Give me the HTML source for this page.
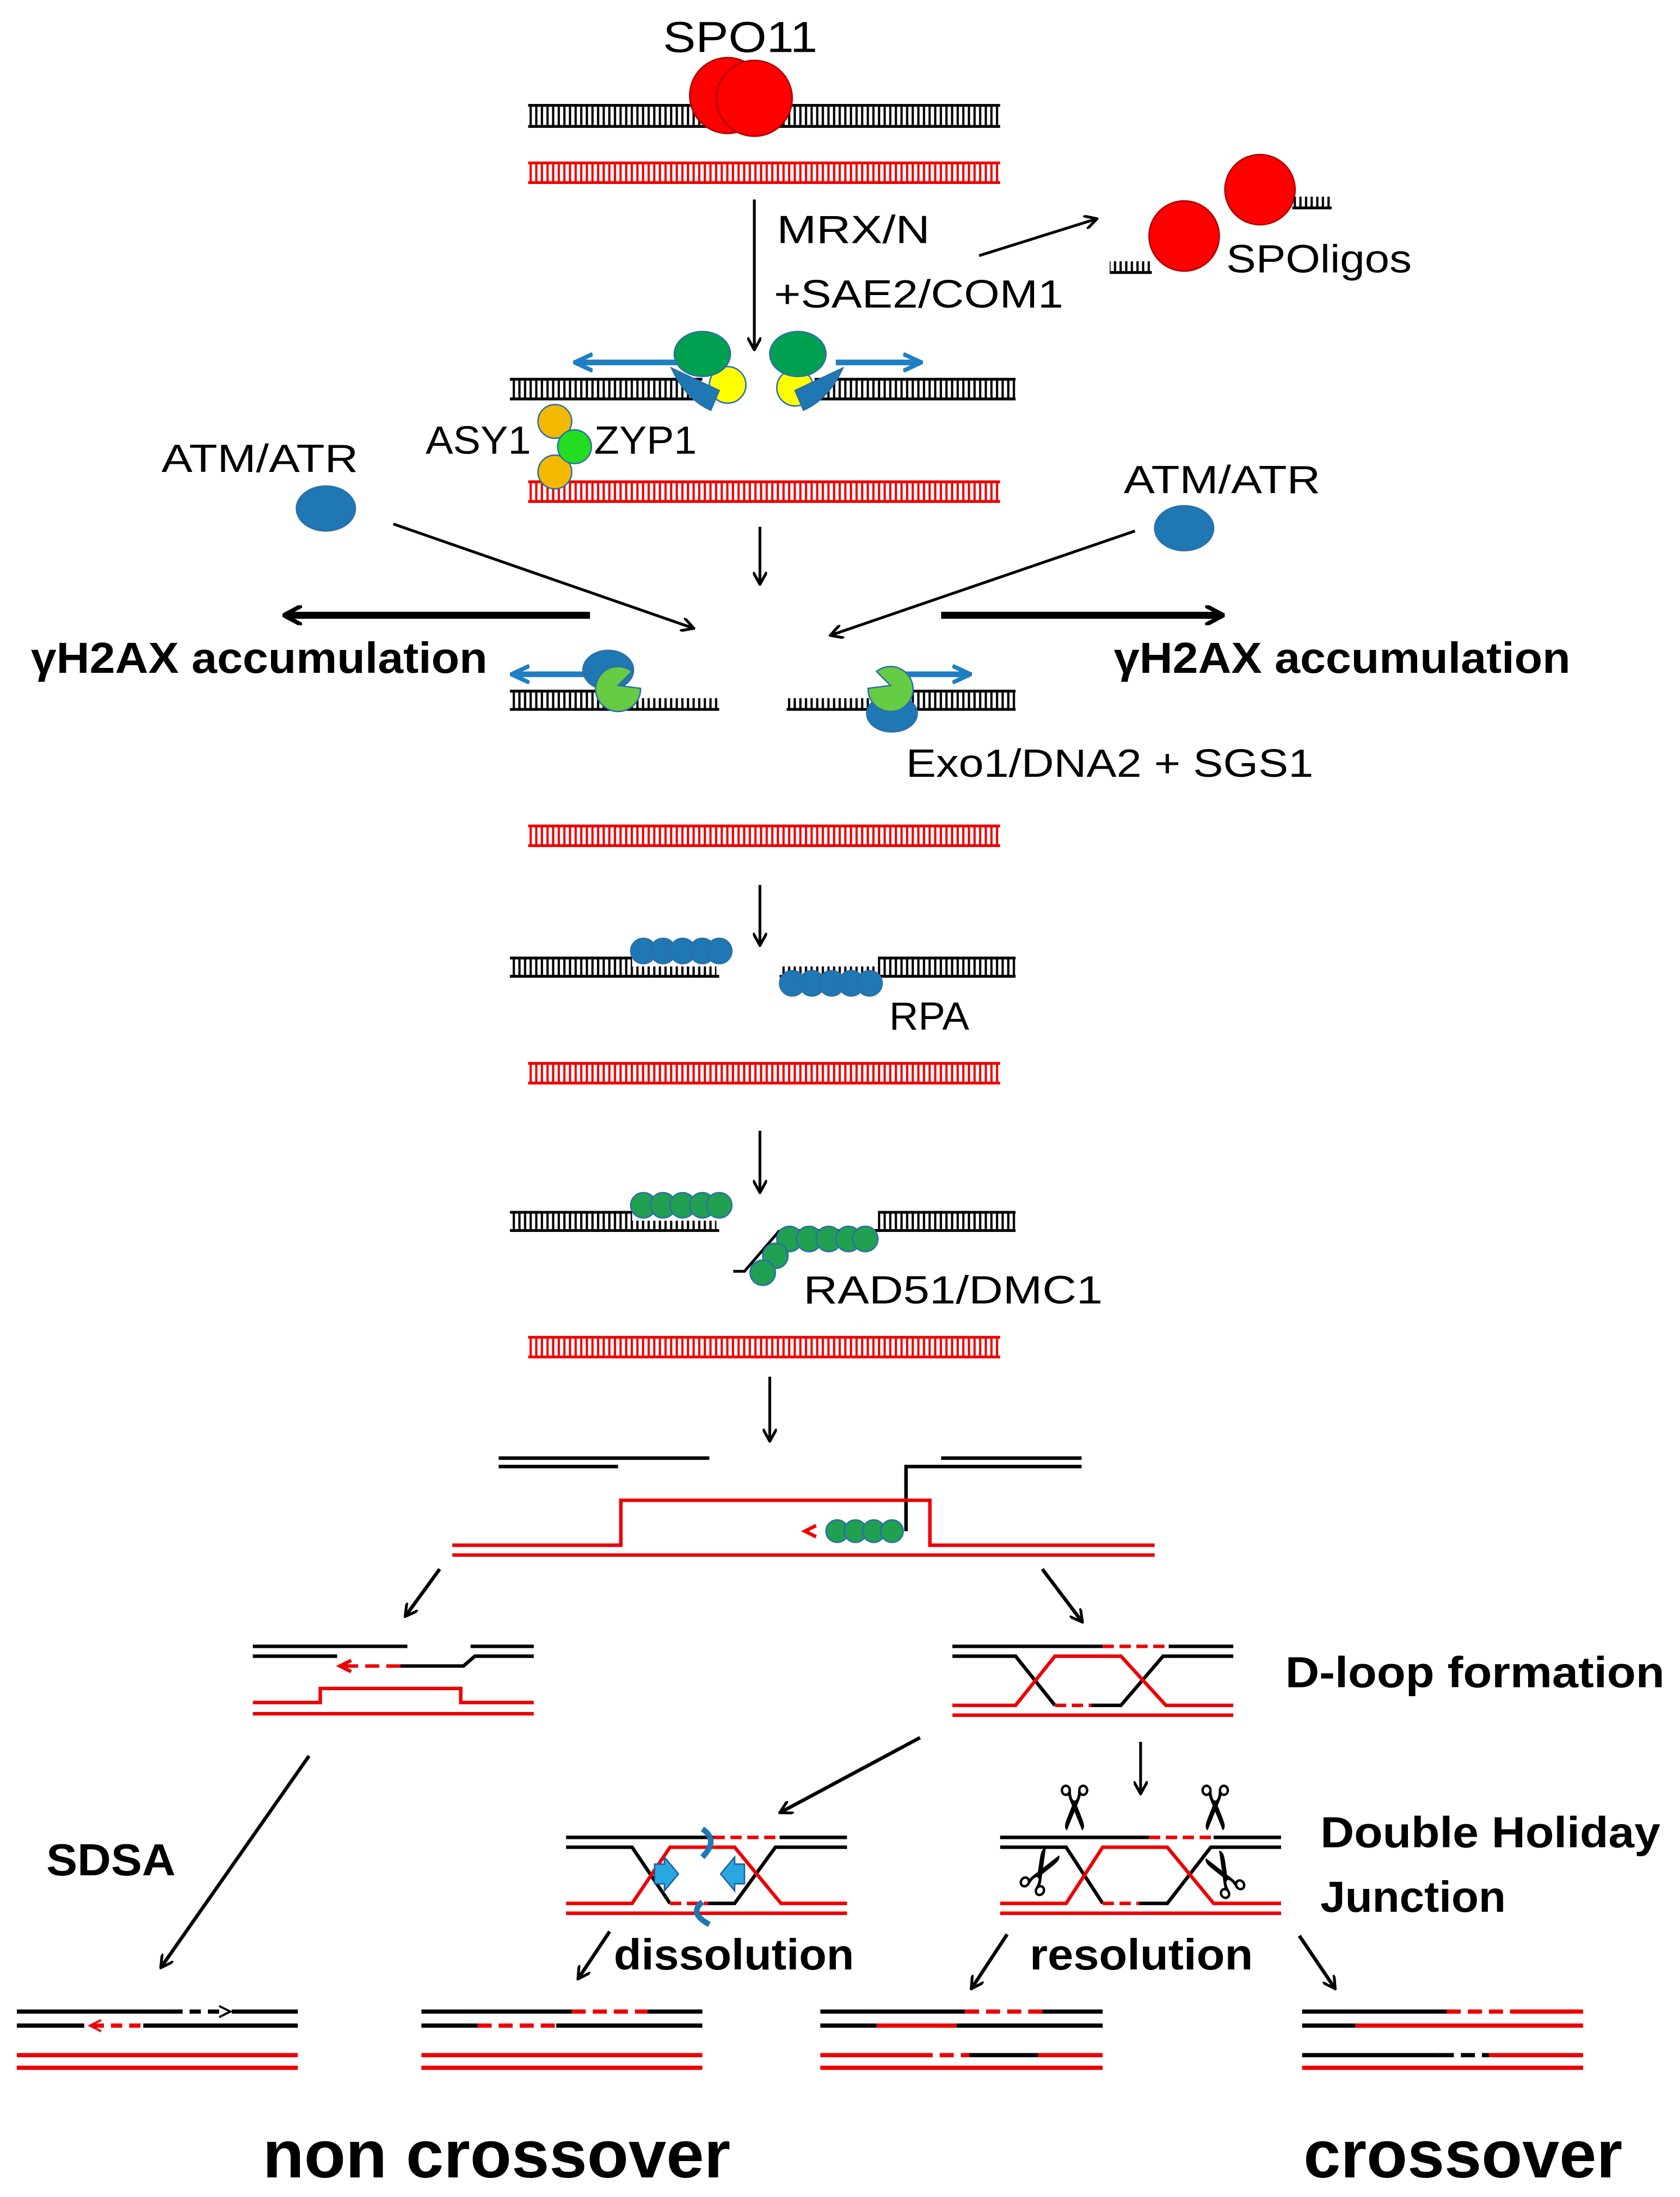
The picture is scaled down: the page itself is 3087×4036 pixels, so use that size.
<!DOCTYPE html>
<html><head><meta charset="utf-8"><style>
html,body{margin:0;padding:0;background:#fff}
svg{display:block}
text{font-family:"Liberation Sans","DejaVu Sans",sans-serif}
.b{font-weight:bold}
</style></head><body>
<svg width="3087" height="4036" viewBox="0 0 1196 1564" preserveAspectRatio="none" xmlns="http://www.w3.org/2000/svg">
<defs>
<pattern id="pk" width="4" height="20" patternUnits="userSpaceOnUse"><rect x="1" y="0" width="1.6" height="20" fill="#000"/></pattern>
<pattern id="pr" width="4" height="20" patternUnits="userSpaceOnUse"><rect x="1" y="0" width="1.6" height="20" fill="#e00"/></pattern>
<marker id="ah" markerWidth="10" markerHeight="10" refX="8" refY="5" orient="auto" markerUnits="userSpaceOnUse" viewBox="0 0 10 10"><path d="M0,0 L9,5 L0,10" fill="none" stroke="#000" stroke-width="2"/></marker>
<marker id="ahb" markerWidth="14" markerHeight="14" refX="12" refY="7" orient="auto" markerUnits="userSpaceOnUse" viewBox="0 0 14 14"><path d="M0,0 L13,7 L0,14" fill="none" stroke="#000" stroke-width="3"/></marker>
<marker id="ahc" markerWidth="14" markerHeight="14" refX="12" refY="7" orient="auto" markerUnits="userSpaceOnUse" viewBox="0 0 14 14"><path d="M0,1 L13,7 L0,13" fill="none" stroke="#1f7fc4" stroke-width="3"/></marker>
</defs>
<g id="all">
<!-- Row1 -->
<text x="472" y="37" font-size="31" textLength="110" lengthAdjust="spacingAndGlyphs">SPO11</text>
<rect x="376" y="76" width="336" height="14" fill="url(#pk)"/><line x1="376" y1="75" x2="712" y2="75" stroke="#000" stroke-width="2"/><line x1="376" y1="90" x2="712" y2="90" stroke="#000" stroke-width="2"/>
<circle cx="518" cy="68" r="27" fill="#f00" stroke="#a00"/><circle cx="537" cy="70" r="27" fill="#f00" stroke="#a00"/>
<rect x="376" y="117" width="336" height="13" fill="url(#pr)"/><line x1="376" y1="116" x2="712" y2="116" stroke="#e00" stroke-width="2"/><line x1="376" y1="130" x2="712" y2="130" stroke="#e00" stroke-width="2"/>
<line x1="537" y1="142" x2="537" y2="248" stroke="#000" stroke-width="2" marker-end="url(#ah)"/>
<text x="553" y="173" font-size="28" textLength="109" lengthAdjust="spacingAndGlyphs">MRX/N</text>
<text x="551" y="219" font-size="28" textLength="206" lengthAdjust="spacingAndGlyphs">+SAE2/COM1</text>
<line x1="697" y1="182" x2="780" y2="156" stroke="#000" stroke-width="2" marker-end="url(#ah)"/>
<circle cx="897" cy="135" r="25" fill="#f00" stroke="#a00"/><circle cx="843" cy="168" r="25" fill="#f00" stroke="#a00"/>
<rect x="920" y="140" width="28" height="8" fill="url(#pk)"/><line x1="920" y1="148" x2="948" y2="148" stroke="#000" stroke-width="2"/>
<rect x="790" y="186" width="30" height="8" fill="url(#pk)"/><line x1="790" y1="194" x2="820" y2="194" stroke="#000" stroke-width="2"/>
<text x="873" y="194" font-size="28" textLength="132" lengthAdjust="spacingAndGlyphs">SPOligos</text>
<!-- Row2 -->
<rect x="363" y="271" width="137" height="13" fill="url(#pk)"/><line x1="363" y1="270" x2="500" y2="270" stroke="#000" stroke-width="2"/><line x1="363" y1="284" x2="500" y2="284" stroke="#000" stroke-width="2"/>
<rect x="580" y="271" width="143" height="13" fill="url(#pk)"/><line x1="580" y1="270" x2="723" y2="270" stroke="#000" stroke-width="2"/><line x1="580" y1="284" x2="723" y2="284" stroke="#000" stroke-width="2"/>
<rect x="376" y="344" width="336" height="13" fill="url(#pr)"/><line x1="376" y1="343" x2="712" y2="343" stroke="#e00" stroke-width="2"/><line x1="376" y1="357" x2="712" y2="357" stroke="#e00" stroke-width="2"/>
<line x1="495" y1="258" x2="410" y2="258" stroke="#1f7fc4" stroke-width="4" marker-end="url(#ahc)"/>
<line x1="595" y1="258" x2="655" y2="258" stroke="#1f7fc4" stroke-width="4" marker-end="url(#ahc)"/>
<circle cx="518" cy="274" r="13" fill="#ff0" stroke="#2a6fa8"/><circle cx="566" cy="276" r="13" fill="#ff0" stroke="#2a6fa8"/>
<path d="M478,262 q10,22 28,30 l6,-14 z" fill="#1f77b4" stroke="#2a6fa8"/><path d="M600,262 q-10,22 -28,30 l-6,-14 z" fill="#1f77b4" stroke="#2a6fa8"/>
<ellipse cx="500" cy="252" rx="20" ry="16" fill="#00a050" stroke="#2a6fa8"/><ellipse cx="568" cy="252" rx="20" ry="16" fill="#00a050" stroke="#2a6fa8"/>
<text x="303" y="323" font-size="28" textLength="75" lengthAdjust="spacingAndGlyphs">ASY1</text><text x="423" y="323" font-size="28" textLength="73" lengthAdjust="spacingAndGlyphs">ZYP1</text>
<circle cx="395" cy="300" r="12" fill="#f5b800" stroke="#2a6fa8"/><circle cx="395" cy="336" r="12" fill="#f5b800" stroke="#2a6fa8"/><circle cx="409" cy="318" r="12" fill="#2d2" stroke="#2a6fa8"/>
<text x="115" y="336" font-size="28" textLength="140" lengthAdjust="spacingAndGlyphs">ATM/ATR</text><ellipse cx="232" cy="362" rx="21" ry="16" fill="#1f77b4" stroke="#2a6fa8"/>
<text x="800" y="351" font-size="28" textLength="140" lengthAdjust="spacingAndGlyphs">ATM/ATR</text><ellipse cx="843" cy="376" rx="21" ry="16" fill="#1f77b4" stroke="#2a6fa8"/>
<line x1="541" y1="375" x2="541" y2="415" stroke="#000" stroke-width="2" marker-end="url(#ah)"/>
<line x1="280" y1="373" x2="493" y2="447" stroke="#000" stroke-width="2" marker-end="url(#ah)"/>
<line x1="808" y1="378" x2="592" y2="452" stroke="#000" stroke-width="2" marker-end="url(#ah)"/>
<line x1="420" y1="438" x2="203" y2="438" stroke="#000" stroke-width="5" marker-end="url(#ahb)"/>
<line x1="670" y1="438" x2="870" y2="438" stroke="#000" stroke-width="5" marker-end="url(#ahb)"/>
<text x="22" y="479" font-size="31" class="b" textLength="325" lengthAdjust="spacingAndGlyphs">γH2AX accumulation</text>
<text x="793" y="479" font-size="31" class="b" textLength="325" lengthAdjust="spacingAndGlyphs">γH2AX accumulation</text>
<!-- Row3 -->
<rect x="363" y="493" width="92" height="12" fill="url(#pk)"/><line x1="363" y1="492" x2="455" y2="492" stroke="#000" stroke-width="2"/><line x1="363" y1="505" x2="512" y2="505" stroke="#000" stroke-width="2"/>
<rect x="455" y="497" width="57" height="8" fill="url(#pk)"/>
<rect x="620" y="493" width="103" height="12" fill="url(#pk)"/><line x1="620" y1="492" x2="723" y2="492" stroke="#000" stroke-width="2"/><line x1="560" y1="505" x2="723" y2="505" stroke="#000" stroke-width="2"/>
<rect x="560" y="497" width="60" height="8" fill="url(#pk)"/>
<line x1="420" y1="480" x2="365" y2="480" stroke="#1f7fc4" stroke-width="4" marker-end="url(#ahc)"/>
<line x1="640" y1="480" x2="690" y2="480" stroke="#1f7fc4" stroke-width="4" marker-end="url(#ahc)"/>
<ellipse cx="433" cy="477" rx="18" ry="14" fill="#1f77b4" stroke="#2a6fa8"/><path d="M456,490 a16,16 0 1 1 -6,-12 l-10,10 z" fill="#66cc44" stroke="#2a6fa8"/>
<ellipse cx="635" cy="508" rx="18" ry="13" fill="#1f77b4" stroke="#2a6fa8"/><path d="M618,490 a16,16 0 1 0 6,-12 l10,10 z" fill="#66cc44" stroke="#2a6fa8"/>
<text x="645" y="553" font-size="28" textLength="290" lengthAdjust="spacingAndGlyphs">Exo1/DNA2 + SGS1</text>
<rect x="376" y="589" width="336" height="13" fill="url(#pr)"/><line x1="376" y1="588" x2="712" y2="588" stroke="#e00" stroke-width="2"/><line x1="376" y1="602" x2="712" y2="602" stroke="#e00" stroke-width="2"/>
<!-- Row4 -->
<line x1="541" y1="630" x2="541" y2="672" stroke="#000" stroke-width="2" marker-end="url(#ah)"/>
<rect x="363" y="683" width="87" height="12" fill="url(#pk)"/><line x1="363" y1="682" x2="450" y2="682" stroke="#000" stroke-width="2"/><line x1="363" y1="695" x2="512" y2="695" stroke="#000" stroke-width="2"/><rect x="450" y="688" width="60" height="7" fill="url(#pk)"/>
<rect x="625" y="683" width="98" height="12" fill="url(#pk)"/><line x1="625" y1="682" x2="723" y2="682" stroke="#000" stroke-width="2"/><line x1="555" y1="695" x2="723" y2="695" stroke="#000" stroke-width="2"/><rect x="555" y="688" width="70" height="7" fill="url(#pk)"/>
<g fill="#1f77b4" stroke="#2a6fa8"><circle cx="458" cy="677" r="9"/><circle cx="472" cy="677" r="9"/><circle cx="486" cy="677" r="9"/><circle cx="500" cy="677" r="9"/><circle cx="512" cy="677" r="9"/>
<circle cx="564" cy="700" r="9"/><circle cx="578" cy="700" r="9"/><circle cx="592" cy="700" r="9"/><circle cx="606" cy="700" r="9"/><circle cx="619" cy="700" r="9"/></g>
<text x="633" y="733" font-size="28" textLength="57" lengthAdjust="spacingAndGlyphs">RPA</text>
<rect x="376" y="758" width="336" height="13" fill="url(#pr)"/><line x1="376" y1="757" x2="712" y2="757" stroke="#e00" stroke-width="2"/><line x1="376" y1="771" x2="712" y2="771" stroke="#e00" stroke-width="2"/>
<!-- Row5 -->
<line x1="541" y1="805" x2="541" y2="848" stroke="#000" stroke-width="2" marker-end="url(#ah)"/>
<rect x="363" y="864" width="87" height="12" fill="url(#pk)"/><line x1="363" y1="863" x2="450" y2="863" stroke="#000" stroke-width="2"/><line x1="363" y1="876" x2="512" y2="876" stroke="#000" stroke-width="2"/><rect x="450" y="869" width="60" height="7" fill="url(#pk)"/>
<rect x="625" y="864" width="98" height="12" fill="url(#pk)"/><line x1="625" y1="863" x2="723" y2="863" stroke="#000" stroke-width="2"/><line x1="555" y1="876" x2="723" y2="876" stroke="#000" stroke-width="2"/>
<path d="M555,876 L530,905 L522,905" fill="none" stroke="#000" stroke-width="2"/>
<g fill="#20a050" stroke="#2a6fa8"><circle cx="458" cy="858" r="9"/><circle cx="472" cy="858" r="9"/><circle cx="486" cy="858" r="9"/><circle cx="500" cy="858" r="9"/><circle cx="512" cy="858" r="9"/>
<circle cx="562" cy="882" r="9"/><circle cx="576" cy="882" r="9"/><circle cx="590" cy="882" r="9"/><circle cx="604" cy="882" r="9"/><circle cx="616" cy="882" r="9"/><circle cx="552" cy="894" r="9"/><circle cx="543" cy="906" r="9"/></g>
<text x="572" y="928" font-size="28" textLength="213" lengthAdjust="spacingAndGlyphs">RAD51/DMC1</text>
<rect x="376" y="953" width="336" height="13" fill="url(#pr)"/><line x1="376" y1="952" x2="712" y2="952" stroke="#e00" stroke-width="2"/><line x1="376" y1="966" x2="712" y2="966" stroke="#e00" stroke-width="2"/>
<!-- Row6 -->
<line x1="548" y1="980" x2="548" y2="1025" stroke="#000" stroke-width="2" marker-end="url(#ah)"/>
<g stroke="#000" stroke-width="2.5" fill="none"><line x1="355" y1="1038" x2="505" y2="1038"/><line x1="355" y1="1044" x2="440" y2="1044"/><line x1="670" y1="1038" x2="770" y2="1038"/><path d="M770,1044 L645,1044 L645,1090"/></g>
<g stroke="#e00" stroke-width="2.5" fill="none"><path d="M322,1100 L442,1100 L442,1068 L662,1068 L662,1100 L822,1100"/><line x1="322" y1="1107" x2="822" y2="1107"/><path d="M581,1086 L573,1090 L581,1094"/></g>
<g fill="#20a050" stroke="#2a6fa8"><circle cx="596" cy="1090" r="8"/><circle cx="609" cy="1090" r="8"/><circle cx="622" cy="1090" r="8"/><circle cx="635" cy="1090" r="8"/></g>
<line x1="313" y1="1117" x2="289" y2="1150" stroke="#000" stroke-width="2.5" marker-end="url(#ah)"/>
<line x1="742" y1="1117" x2="770" y2="1154" stroke="#000" stroke-width="2.5" marker-end="url(#ah)"/>
<!-- SDSA intermediate -->
<g stroke="#000" stroke-width="2.5" fill="none"><line x1="180" y1="1172" x2="290" y2="1172"/><line x1="180" y1="1179" x2="240" y2="1179"/><line x1="335" y1="1172" x2="380" y2="1172"/><path d="M380,1179 L338,1179 L330,1186 L285,1186"/></g>
<g stroke="#e00" stroke-width="2.5" fill="none"><path d="M180,1212 L228,1212 L228,1202 L328,1202 L328,1212 L380,1212"/><line x1="180" y1="1220" x2="380" y2="1220"/><line x1="285" y1="1186" x2="242" y2="1186" stroke-dasharray="10,5"/><path d="M250,1182 L242,1186 L250,1190"/></g>
<!-- D-loop intermediate -->
<g stroke="#000" stroke-width="2.5" fill="none"><line x1="678" y1="1172" x2="785" y2="1172"/><line x1="832" y1="1172" x2="878" y2="1172"/><path d="M678,1179 L723,1179 L751,1214"/><path d="M777,1214 L798,1214 L828,1179 L878,1179"/></g>
<g stroke="#e00" stroke-width="2.5" fill="none"><line x1="785" y1="1172" x2="832" y2="1172" stroke-dasharray="8,4"/><line x1="751" y1="1214" x2="777" y2="1214" stroke-dasharray="8,4"/><path d="M678,1214 L723,1214 L751,1179 L798,1179 L830,1214 L878,1214"/><line x1="678" y1="1221" x2="878" y2="1221"/></g>
<text x="915" y="1201" font-size="31" class="b" textLength="270" lengthAdjust="spacingAndGlyphs">D-loop formation</text>
<line x1="655" y1="1237" x2="556" y2="1290" stroke="#000" stroke-width="2.5" marker-end="url(#ah)"/>
<line x1="812" y1="1240" x2="812" y2="1276" stroke="#000" stroke-width="2" marker-end="url(#ah)"/>
<line x1="220" y1="1250" x2="115" y2="1400" stroke="#000" stroke-width="2.5" marker-end="url(#ah)"/>
<text x="33" y="1335" font-size="32" class="b" textLength="92" lengthAdjust="spacingAndGlyphs">SDSA</text>
<!-- dissolution DHJ -->
<g stroke="#000" stroke-width="2.5" fill="none"><line x1="403" y1="1308" x2="508" y2="1308"/><line x1="555" y1="1308" x2="603" y2="1308"/><path d="M403,1315 L450,1315 L477,1355"/><path d="M504,1355 L523,1355 L552,1315 L603,1315"/></g>
<g stroke="#e00" stroke-width="2.5" fill="none"><line x1="508" y1="1308" x2="555" y2="1308" stroke-dasharray="8,4"/><line x1="477" y1="1355" x2="504" y2="1355" stroke-dasharray="8,4"/><path d="M403,1355 L450,1355 L477,1315 L523,1315 L556,1355 L603,1355"/><line x1="403" y1="1362" x2="603" y2="1362"/></g>
<path d="M466,1327 l7,0 l0,-5 l10,12 l-10,12 l0,-5 l-7,0 z" fill="#29a8e0" stroke="#1f5f9c"/>
<path d="M530,1327 l-7,0 l0,-5 l-10,12 l10,12 l0,-5 l7,0 z" fill="#29a8e0" stroke="#1f5f9c"/>
<path d="M500,1302 q12,8 0,20" fill="none" stroke="#1f77b4" stroke-width="4"/><path d="M500,1354 q-10,8 5,16" fill="none" stroke="#1f77b4" stroke-width="4"/>
<!-- resolution DHJ -->
<g stroke="#000" stroke-width="2.5" fill="none"><line x1="712" y1="1308" x2="818" y2="1308"/><line x1="864" y1="1308" x2="912" y2="1308"/><path d="M712,1315 L759,1315 L785,1355"/><path d="M811,1355 L831,1355 L862,1315 L912,1315"/></g>
<g stroke="#e00" stroke-width="2.5" fill="none"><line x1="818" y1="1308" x2="864" y2="1308" stroke-dasharray="8,4"/><line x1="785" y1="1355" x2="811" y2="1355" stroke-dasharray="8,4"/><path d="M712,1355 L759,1355 L785,1315 L831,1315 L864,1355 L912,1355"/><line x1="712" y1="1362" x2="912" y2="1362"/></g>
<g font-size="44" text-anchor="middle">
<text transform="translate(763,1287) rotate(90)" y="14">✂</text><text transform="translate(863,1287) rotate(90)" y="14">✂</text>
<text transform="translate(743,1333) rotate(-60)" y="14">✂</text><text transform="translate(873,1333) rotate(-120)" y="14">✂</text></g>
<text x="940" y="1315" font-size="31" class="b" textLength="242" lengthAdjust="spacingAndGlyphs">Double Holiday</text>
<text x="940" y="1361" font-size="31" class="b" textLength="132" lengthAdjust="spacingAndGlyphs">Junction</text>
<line x1="434" y1="1375" x2="412" y2="1408" stroke="#000" stroke-width="2.5" marker-end="url(#ah)"/>
<text x="437" y="1402" font-size="31" class="b" textLength="171" lengthAdjust="spacingAndGlyphs">dissolution</text>
<line x1="717" y1="1377" x2="692" y2="1415" stroke="#000" stroke-width="2.5" marker-end="url(#ah)"/>
<text x="733" y="1402" font-size="31" class="b" textLength="159" lengthAdjust="spacingAndGlyphs">resolution</text>
<line x1="925" y1="1378" x2="950" y2="1415" stroke="#000" stroke-width="2.5" marker-end="url(#ah)"/>
<!-- bottom products -->
<g stroke-width="3" fill="none">
<line x1="12" y1="1432" x2="122" y2="1432" stroke="#000"/><line x1="122" y1="1432" x2="160" y2="1432" stroke="#000" stroke-dasharray="8,5"/><path d="M156,1428 L164,1432 L156,1436" stroke="#000" stroke-width="1.5"/><line x1="165" y1="1432" x2="212" y2="1432" stroke="#000"/>
<line x1="12" y1="1442" x2="60" y2="1442" stroke="#000"/><line x1="66" y1="1442" x2="102" y2="1442" stroke="#e00" stroke-dasharray="8,5"/><path d="M72,1438 L64,1442 L72,1446" stroke="#e00" stroke-width="1.5"/><line x1="102" y1="1442" x2="212" y2="1442" stroke="#000"/>
<line x1="12" y1="1463" x2="212" y2="1463" stroke="#e00"/><line x1="12" y1="1472" x2="212" y2="1472" stroke="#e00"/>

<line x1="300" y1="1432" x2="407" y2="1432" stroke="#000"/><line x1="407" y1="1432" x2="461" y2="1432" stroke="#e00" stroke-dasharray="10,5"/><line x1="461" y1="1432" x2="500" y2="1432" stroke="#000"/>
<line x1="300" y1="1442" x2="340" y2="1442" stroke="#000"/><line x1="340" y1="1442" x2="396" y2="1442" stroke="#e00" stroke-dasharray="10,5"/><line x1="396" y1="1442" x2="500" y2="1442" stroke="#000"/>
<line x1="300" y1="1463" x2="500" y2="1463" stroke="#e00"/><line x1="300" y1="1472" x2="500" y2="1472" stroke="#e00"/>

<line x1="584" y1="1432" x2="687" y2="1432" stroke="#000"/><line x1="687" y1="1432" x2="742" y2="1432" stroke="#e00" stroke-dasharray="10,5"/><line x1="742" y1="1432" x2="785" y2="1432" stroke="#000"/>
<line x1="584" y1="1442" x2="624" y2="1442" stroke="#000"/><line x1="624" y1="1442" x2="681" y2="1442" stroke="#e00"/><line x1="681" y1="1442" x2="785" y2="1442" stroke="#000"/>
<line x1="584" y1="1463" x2="654" y2="1463" stroke="#e00"/><line x1="654" y1="1463" x2="690" y2="1463" stroke="#e00" stroke-dasharray="10,5"/><line x1="690" y1="1463" x2="739" y2="1463" stroke="#000"/><line x1="739" y1="1463" x2="785" y2="1463" stroke="#e00"/><line x1="584" y1="1472" x2="785" y2="1472" stroke="#e00"/>

<line x1="927" y1="1432" x2="1030" y2="1432" stroke="#000"/><line x1="1030" y1="1432" x2="1085" y2="1432" stroke="#e00" stroke-dasharray="10,5"/><line x1="1085" y1="1432" x2="1127" y2="1432" stroke="#e00"/>
<line x1="927" y1="1442" x2="965" y2="1442" stroke="#000"/><line x1="965" y1="1442" x2="1127" y2="1442" stroke="#e00"/>
<line x1="927" y1="1463" x2="1025" y2="1463" stroke="#000"/><line x1="1025" y1="1463" x2="1060" y2="1463" stroke="#000" stroke-dasharray="10,5"/><line x1="1060" y1="1463" x2="1127" y2="1463" stroke="#e00"/>
<line x1="927" y1="1472" x2="1127" y2="1472" stroke="#e00"/>
</g>
<text x="187" y="1550" font-size="48" class="b" textLength="333" lengthAdjust="spacingAndGlyphs">non crossover</text>
<text x="928" y="1550" font-size="48" class="b" textLength="227" lengthAdjust="spacingAndGlyphs">crossover</text>
</g>
</svg>
</body></html>
